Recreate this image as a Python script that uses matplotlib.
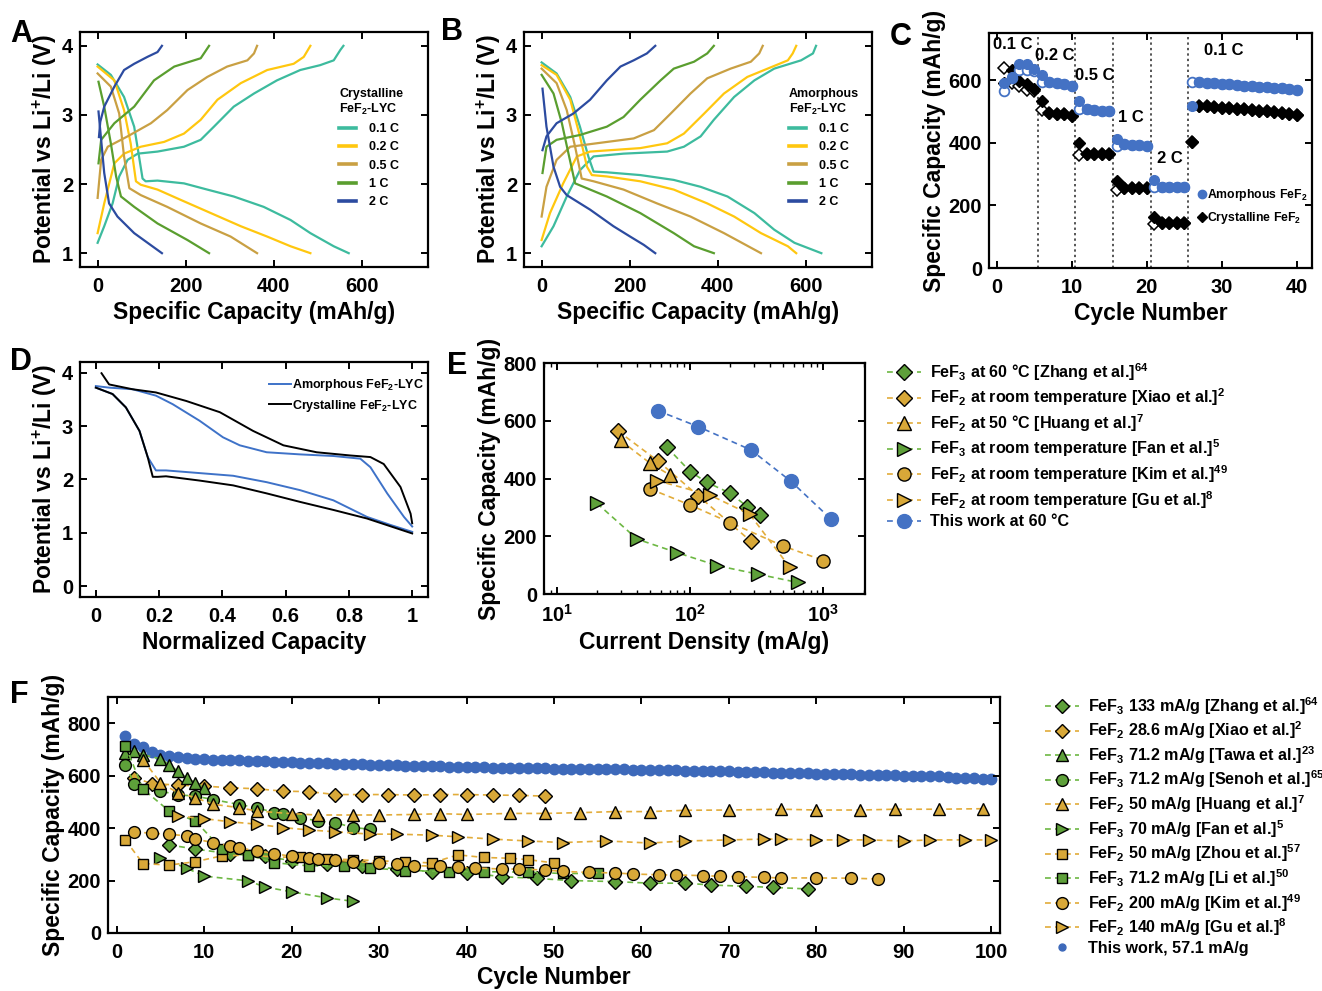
import matplotlib
matplotlib.use("Agg")
import matplotlib.pyplot as plt
from matplotlib.lines import Line2D

plt.rcParams['font.family'] = ['Liberation Sans', 'DejaVu Sans']
plt.rcParams['font.weight'] = 'bold'
plt.rcParams['axes.labelweight'] = 'bold'
plt.rcParams['mathtext.fontset'] = 'custom'
plt.rcParams['mathtext.rm'] = 'Liberation Sans:bold'
plt.rcParams['mathtext.it'] = 'Liberation Sans:bold'
plt.rcParams['mathtext.bf'] = 'Liberation Sans:bold'
plt.rcParams['mathtext.sf'] = 'Liberation Sans:bold'

# ---------------- data: panel A (crystalline FeF2-LYC) ----------------
rates = ['0.1 C', '0.2 C', '0.5 C', '1 C', '2 C']
rate_colors = ['#3DBB9E', '#FFC70F', '#C9A043', '#5A9E2F', '#2C4BA0']

cA01_dis_x = [0, 30, 60, 83, 94, 102, 109, 136, 196, 249, 309, 377, 438, 483, 536, 570]
cA01_dis_y = [3.73, 3.58, 3.26, 2.83, 2.40, 2.08, 2.04, 2.05, 2.01, 1.92, 1.82, 1.67, 1.48, 1.29, 1.10, 1.0]
cA01_chg_x = [0, 15, 34, 49, 68, 91, 136, 196, 234, 264, 309, 355, 407, 460, 505, 536, 551, 558]
cA01_chg_y = [1.15, 1.39, 1.72, 2.11, 2.35, 2.44, 2.47, 2.54, 2.64, 2.83, 3.12, 3.31, 3.50, 3.65, 3.72, 3.79, 3.94, 4.0]
cA02_dis_x = [0, 38, 60, 75, 87, 98, 136, 189, 257, 325, 385, 438, 483]
cA02_dis_y = [3.70, 3.50, 3.07, 2.59, 2.04, 1.99, 1.92, 1.77, 1.58, 1.39, 1.24, 1.10, 1.0]
cA02_chg_x = [0, 15, 38, 60, 98, 151, 196, 234, 272, 325, 385, 445, 468, 483]
cA02_chg_y = [1.29, 1.72, 2.30, 2.44, 2.54, 2.61, 2.73, 2.93, 3.22, 3.46, 3.65, 3.74, 3.84, 4.0]
cA05_dis_x = [0, 30, 49, 60, 72, 98, 158, 234, 302, 362]
cA05_dis_y = [3.60, 3.41, 3.02, 2.40, 1.94, 1.84, 1.67, 1.43, 1.24, 1.0]
cA05_chg_x = [0, 8, 23, 68, 121, 158, 204, 249, 294, 340, 355, 362]
cA05_chg_y = [1.80, 2.35, 2.54, 2.69, 2.88, 3.07, 3.36, 3.55, 3.70, 3.79, 3.89, 4.0]
cA1_dis_x = [2, 15, 30, 42, 53, 83, 136, 204, 253]
cA1_dis_y = [3.48, 3.12, 2.59, 2.11, 1.82, 1.67, 1.43, 1.19, 1.0]
cA1_chg_x = [2, 8, 38, 83, 128, 174, 234, 253]
cA1_chg_y = [2.30, 2.64, 2.88, 3.12, 3.50, 3.70, 3.82, 4.0]
cA2_dis_x = [2, 8, 15, 26, 45, 83, 146]
cA2_dis_y = [3.05, 2.64, 2.16, 1.72, 1.53, 1.29, 1.0]
cA2_chg_x = [3, 6, 15, 38, 60, 83, 113, 136, 146]
cA2_chg_y = [2.68, 2.90, 3.12, 3.41, 3.65, 3.74, 3.84, 3.91, 4.0]

# ---------------- data: panel B (amorphous FeF2-LYC) ----------------
aB01_dis_x = [0, 34, 65, 87, 106, 118, 148, 224, 300, 361, 422, 483, 528, 574, 635]
aB01_dis_y = [3.76, 3.60, 3.26, 2.83, 2.40, 2.18, 2.17, 2.13, 2.06, 1.96, 1.82, 1.58, 1.34, 1.15, 1.0]
aB01_chg_x = [0, 27, 57, 87, 118, 186, 285, 323, 361, 391, 437, 483, 528, 589, 616, 623]
aB01_chg_y = [1.10, 1.39, 1.82, 2.20, 2.40, 2.44, 2.47, 2.54, 2.69, 2.93, 3.26, 3.50, 3.67, 3.79, 3.89, 4.0]
aB02_dis_x = [0, 34, 65, 87, 103, 114, 148, 224, 300, 376, 437, 498, 559, 578]
aB02_dis_y = [3.72, 3.58, 3.22, 2.69, 2.25, 2.13, 2.11, 2.04, 1.92, 1.72, 1.53, 1.29, 1.10, 1.0]
aB02_chg_x = [0, 19, 49, 80, 110, 224, 285, 323, 369, 414, 467, 513, 559, 570, 578]
aB02_chg_y = [1.19, 1.58, 2.01, 2.40, 2.47, 2.52, 2.59, 2.73, 3.02, 3.31, 3.55, 3.67, 3.79, 3.89, 4.0]
aB05_dis_x = [0, 34, 57, 76, 91, 118, 186, 262, 338, 414, 498]
aB05_dis_y = [3.67, 3.46, 3.07, 2.54, 2.08, 2.04, 1.92, 1.72, 1.53, 1.29, 1.0]
aB05_chg_x = [0, 11, 34, 65, 125, 209, 255, 293, 338, 376, 429, 475, 494, 502]
aB05_chg_y = [1.53, 1.96, 2.35, 2.54, 2.59, 2.66, 2.78, 3.02, 3.31, 3.53, 3.67, 3.77, 3.89, 4.0]
aB1_dis_x = [0, 27, 46, 61, 76, 95, 148, 224, 300, 346, 391]
aB1_dis_y = [3.58, 3.31, 2.88, 2.44, 2.01, 1.96, 1.82, 1.58, 1.29, 1.10, 1.0]
aB1_chg_x = [2, 11, 34, 87, 148, 186, 224, 270, 300, 346, 376, 391]
aB1_chg_y = [2.16, 2.54, 2.64, 2.71, 2.83, 2.97, 3.22, 3.50, 3.67, 3.77, 3.89, 4.0]
aB2_dis_x = [2, 11, 27, 42, 57, 110, 163, 201, 232, 258]
aB2_dis_y = [3.38, 2.83, 2.25, 1.96, 1.84, 1.63, 1.39, 1.24, 1.12, 1.0]
aB2_chg_x = [2, 11, 34, 72, 110, 148, 179, 209, 239, 258]
aB2_chg_y = [2.49, 2.69, 2.88, 3.02, 3.22, 3.50, 3.70, 3.79, 3.89, 4.0]

# ---------------- data: panel C (rate capability) ----------------
cyc_C = list(range(1, 41))
amor_dis = [589, 608, 652, 652, 636, 617, 593, 590, 588, 582,
            532, 508, 503, 502, 500, 413, 395, 393, 392, 390,
            282, 260, 260, 260, 260, 518, 595, 592, 590, 588,
            586, 584, 582, 581, 579, 577, 575, 573, 571, 569]
amor_chg = [564, 605, 632, 632, 630, 593, 593, 590, 588, 582,
            508, 508, 503, 502, 500, 390, 395, 393, 392, 390,
            257, 260, 260, 260, 260, 593, 595, 592, 590, 588,
            586, 584, 582, 581, 579, 577, 575, 573, 571, 569]
cry_dis = [589, 633, 596, 587, 571, 534, 494, 492, 490, 485,
           399, 363, 363, 363, 363, 278, 254, 254, 254, 254,
           164, 145, 145, 145, 145, 402, 518, 516, 514, 512,
           510, 508, 506, 504, 502, 500, 498, 496, 493, 489]
cry_chg = [637, 589, 582, 568, 564, 503, 494, 492, 490, 485,
           360, 363, 363, 363, 363, 249, 254, 254, 254, 254,
           141, 145, 145, 145, 145, 402, 518, 516, 514, 512,
           510, 508, 506, 504, 502, 500, 498, 496, 493, 489]
C_dividers = [5.5, 10.5, 15.5, 20.5, 25.5]
C_rate_labels = ['0.1 C', '0.2 C', '0.5 C', '1 C', '2 C', '0.1 C']
C_rate_label_x = [2.2, 7.8, 13.1, 17.9, 23.1, 30.2]
C_rate_label_y = [714, 677, 614, 481, 349, 693]

# ---------------- data: panel D (normalized) ----------------
D_cry_chg_x = [0.018, 0.042, 0.116, 0.19, 0.286, 0.392, 0.497, 0.593, 0.698, 0.804, 0.868, 0.910, 0.963, 0.995, 1.0]
D_cry_chg_y = [3.99, 3.78, 3.69, 3.63, 3.47, 3.26, 2.91, 2.64, 2.51, 2.45, 2.42, 2.29, 1.86, 1.36, 1.18]
D_cry_dis_x = [0, 0.053, 0.095, 0.138, 0.164, 0.180, 0.196, 0.222, 0.328, 0.434, 0.540, 0.646, 0.751, 0.857, 1.0]
D_cry_dis_y = [3.72, 3.60, 3.35, 2.91, 2.42, 2.05, 2.05, 2.06, 1.98, 1.89, 1.74, 1.58, 1.43, 1.27, 0.99]
D_am_chg_x = [0, 0.042, 0.116, 0.19, 0.243, 0.328, 0.402, 0.455, 0.540, 0.646, 0.751, 0.836, 0.868, 0.921, 0.974, 1.0]
D_am_chg_y = [3.75, 3.72, 3.69, 3.57, 3.41, 3.10, 2.79, 2.64, 2.51, 2.47, 2.44, 2.39, 2.23, 1.74, 1.30, 1.12]
D_am_dis_x = [0, 0.053, 0.095, 0.138, 0.164, 0.19, 0.222, 0.328, 0.434, 0.540, 0.646, 0.751, 0.857, 0.931, 1.0]
D_am_dis_y = [3.72, 3.60, 3.35, 2.91, 2.42, 2.17, 2.17, 2.12, 2.07, 1.95, 1.80, 1.61, 1.30, 1.15, 1.02]

# ---------------- data: panel E (rate comparison) ----------------
E_zhang_x = [67, 100, 133, 200, 267, 333]
E_zhang_y = [508, 424, 387, 349, 303, 274]
E_xiao_x = [28.6, 57.2, 114.4, 286]
E_xiao_y = [565, 461, 341, 182]
E_huang_x = [30, 50, 70]
E_huang_y = [532, 453, 413]
E_fan_x = [20, 40, 80, 160, 320, 640]
E_fan_y = [314, 190, 143, 98, 69, 40]
E_kim_x = [50, 100, 200, 500, 1000]
E_kim_y = [364, 308, 247, 166, 116]
E_gu_x = [56, 140, 280, 560]
E_gu_y = [393, 343, 276, 92]
E_this_x = [57.1, 114.2, 285.5, 571, 1142]
E_this_y = [635, 580, 499, 390, 259]

# ---------------- data: panel F (cycling comparison) ----------------
F_zhang_c = [6, 9, 13, 17, 20, 24, 28, 32, 36, 40, 44, 48, 52, 57, 61, 65, 68, 72, 75, 79]
F_zhang_v = [336, 320, 302, 292, 276, 264, 257, 245, 234, 230, 215, 208, 200, 196, 190, 190, 183, 178, 174, 168]
F_xiao_c = [2, 4, 7, 10, 13, 16, 19, 22, 25, 28, 31, 34, 37, 40, 43, 46, 49]
F_xiao_v = [592, 570, 564, 560, 554, 550, 541, 539, 528, 528, 528, 526, 528, 528, 526, 525, 522]
F_tawa_c = [1, 2, 3, 5, 6, 7, 8, 9, 10]
F_tawa_v = [686, 693, 680, 664, 642, 617, 592, 573, 554]
F_senoh_c = [1, 2, 5, 7, 9, 11, 14, 16, 18, 19, 21, 23, 25, 27, 29]
F_senoh_v = [640, 570, 541, 527, 522, 509, 490, 478, 459, 455, 440, 427, 421, 402, 396]
F_huang_c = [3, 5, 7, 9, 11, 14, 16, 20, 23, 27, 30, 34, 37, 40, 45, 49, 53, 57, 61, 65, 70, 76, 80, 85, 89, 94, 99]
F_huang_v = [661, 573, 535, 516, 491, 478, 465, 455, 450, 450, 450, 452, 455, 452, 456, 456, 459, 463, 463, 468, 469, 472, 469, 469, 472, 472, 474]
F_fan_c = [5, 8, 10, 15, 17, 20, 24, 27]
F_fan_v = [287, 247, 217, 199, 175, 157, 134, 121]
F_zhou_c = [1, 3, 6, 9, 12, 15, 18, 21, 24, 27, 30, 33, 36, 39, 42, 45, 47, 50]
F_zhou_v = [354, 265, 259, 272, 294, 297, 290, 288, 282, 280, 275, 272, 267, 298, 288, 285, 280, 267]
F_li_c = [1, 3, 6, 9, 12, 15, 18, 22, 26, 29, 33, 38, 42, 47, 51, 55]
F_li_v = [714, 549, 465, 427, 320, 298, 268, 256, 256, 248, 238, 234, 234, 232, 227, 227]
F_kim_c = [2, 4, 6, 8, 9, 11, 13, 14, 16, 18, 20, 22, 23, 25, 27, 30, 32, 34, 37, 39,
           41, 44, 46, 49, 51, 54, 57, 59, 62, 64, 67, 69, 71, 74, 76, 80, 84, 87]
F_kim_v = [386, 380, 377, 370, 358, 345, 332, 324, 314, 303, 292, 286, 282, 278, 272, 267, 263, 257, 254, 250,
           248, 244, 244, 240, 235, 231, 229, 225, 222, 221, 219, 216, 215, 212, 210, 210, 209, 206]
F_gu_c = [7, 10, 13, 16, 19, 22, 25, 29, 32, 36, 39, 43, 47, 51, 56, 61, 65, 70, 74, 76, 80, 83, 86, 90, 93, 97, 100]
F_gu_v = [446, 436, 424, 415, 402, 393, 386, 377, 377, 373, 367, 358, 351, 345, 351, 343, 351, 355, 358, 358, 355, 355, 355, 351, 355, 355, 355]
F_this_c = list(range(1, 101))
F_this_v = [752, 722, 708, 690, 680, 675, 671, 668, 665, 662,
            661, 660, 659, 658, 657, 656, 655, 653, 652, 651,
            650, 649, 648, 647, 646, 645, 644, 643, 641, 640,
            639, 639, 638, 637, 637, 636, 635, 634, 634, 633,
            632, 632, 631, 631, 630, 629, 629, 628, 628, 627,
            627, 626, 626, 625, 625, 625, 624, 624, 623, 623,
            622, 621, 621, 620, 619, 619, 618, 617, 617, 616,
            615, 614, 614, 613, 612, 611, 611, 610, 609, 608,
            607, 606, 606, 605, 604, 603, 602, 602, 601, 600,
            599, 598, 597, 597, 596, 592, 590, 591, 589, 588]

# ---------------- styling ----------------
GREEN = '#5EA03A'
GREEN_L = '#6DB843'
GOLD = '#D8A838'
GOLD_L = '#E2AC3A'
BLUE = '#4472C4'
BLUE_F = '#3D69BA'

W, H = 1322, 991
fig = plt.figure(figsize=(W / 100, H / 100), dpi=100)


def pxax(x0, y0, x1, y1):
    return fig.add_axes([x0 / W, 1 - y1 / H, (x1 - x0) / W, (y1 - y0) / H])


def style(ax):
    for s in ax.spines.values():
        s.set_linewidth(1.6)
    ax.tick_params(which='major', direction='in', top=True, right=True,
                   width=1.4, length=5, labelsize=14.5)
    ax.tick_params(which='minor', direction='in', top=True, right=True,
                   width=1.0, length=3)
    ax.tick_params(axis='x', which='both', pad=7)
    ax.tick_params(axis='y', which='both', pad=5)


LABFS = 16.5
VLABEL = 'Potential vs Li$^{+}$/Li (V)'
LEGFS = 11.6

# ---------------- Panel A & B ----------------
A_curves = [(cA01_dis_x, cA01_dis_y, cA01_chg_x, cA01_chg_y),
            (cA02_dis_x, cA02_dis_y, cA02_chg_x, cA02_chg_y),
            (cA05_dis_x, cA05_dis_y, cA05_chg_x, cA05_chg_y),
            (cA1_dis_x, cA1_dis_y, cA1_chg_x, cA1_chg_y),
            (cA2_dis_x, cA2_dis_y, cA2_chg_x, cA2_chg_y)]
B_curves = [(aB01_dis_x, aB01_dis_y, aB01_chg_x, aB01_chg_y),
            (aB02_dis_x, aB02_dis_y, aB02_chg_x, aB02_chg_y),
            (aB05_dis_x, aB05_dis_y, aB05_chg_x, aB05_chg_y),
            (aB1_dis_x, aB1_dis_y, aB1_chg_x, aB1_chg_y),
            (aB2_dis_x, aB2_dis_y, aB2_chg_x, aB2_chg_y)]

for box, curves, title, lx in [((80, 32, 428, 267), A_curves, 'Crystalline\nFeF$_2$-LYC', 0.727),
                               ((524, 32, 872, 267), B_curves, 'Amorphous\nFeF$_2$-LYC', 0.744)]:
    ax = pxax(*box)
    for (dx, dy, cx, cy), col, lab in zip(curves, rate_colors, rates):
        ax.plot(dx, dy, color=col, lw=1.6, solid_joinstyle='round')
        ax.plot(cx, cy, color=col, lw=1.6, solid_joinstyle='round', label=lab)
    ax.set_xlim(-40, 750)
    ax.set_ylim(0.8, 4.2)
    ax.set_xticks([0, 200, 400, 600])
    ax.set_yticks([1, 2, 3, 4])
    style(ax)
    ax.set_xlabel('Specific Capacity (mAh/g)', fontsize=LABFS, labelpad=4)
    ax.set_ylabel(VLABEL, fontsize=LABFS, labelpad=2)
    ax.legend(handles=[Line2D([], [], color=c, lw=2.6) for c in rate_colors],
              labels=rates, title=title, frameon=False, fontsize=9,
              title_fontsize=9, loc='upper left', bbox_to_anchor=(lx, 0.79),
              handlelength=1.35, handletextpad=1.0, labelspacing=0.5,
              borderpad=0, alignment='left')

# ---------------- Panel C ----------------
axC = pxax(989, 33, 1312, 268)
for xv in C_dividers:
    axC.axvline(xv, color='#555555', ls=(0, (1.2, 1.6)), lw=1.4, zorder=1)
axC.plot(cyc_C, cry_chg, ls='none', marker='D', ms=6, mfc='white', mec='black', mew=1.1, zorder=2)
axC.plot(cyc_C, cry_dis, ls='none', marker='D', ms=6, mfc='black', mec='black', zorder=3)
axC.plot(cyc_C, amor_chg, ls='none', marker='o', ms=7, mfc='white', mec=BLUE, mew=1.3, zorder=4)
axC.plot(cyc_C, amor_dis, ls='none', marker='o', ms=7, mfc=BLUE, mec=BLUE, zorder=5)
for t, xv, yv in zip(C_rate_labels, C_rate_label_x, C_rate_label_y):
    axC.text(xv, yv, t, fontsize=12, ha='center', va='center', zorder=6)
axC.set_xlim(-1, 42)
axC.set_ylim(0, 750)
axC.set_xticks([0, 10, 20, 30, 40])
axC.set_yticks([0, 200, 400, 600])
style(axC)
axC.set_xlabel('Cycle Number', fontsize=LABFS, labelpad=4)
axC.set_ylabel('Specific Capacity (mAh/g)', fontsize=LABFS, labelpad=2)
legC = axC.legend(handles=[Line2D([], [], ls='none', marker='o', ms=6, mfc=BLUE, mec=BLUE),
                           Line2D([], [], ls='none', marker='D', ms=5, mfc='black', mec='black')],
                  labels=['Amorphous FeF$_2$', 'Crystalline FeF$_2$'], frameon=False,
                  fontsize=8.8, loc='upper left', bbox_to_anchor=(0.632, 0.37),
                  handlelength=0.5, handletextpad=0.15, labelspacing=0.55, borderpad=0)
legC.set_zorder(10)

# ---------------- Panel D ----------------
axD = pxax(80, 362, 428, 597)
axD.plot(D_am_chg_x, D_am_chg_y, color='#3E72C8', lw=1.4)
axD.plot(D_am_dis_x, D_am_dis_y, color='#3E72C8', lw=1.4)
axD.plot(D_cry_chg_x, D_cry_chg_y, color='black', lw=1.4)
axD.plot(D_cry_dis_x, D_cry_dis_y, color='black', lw=1.4)
axD.set_xlim(-0.05, 1.05)
axD.set_ylim(-0.2, 4.2)
axD.set_xticks([0, 0.2, 0.4, 0.6, 0.8, 1])
axD.set_xticklabels(['0', '0.2', '0.4', '0.6', '0.8', '1'])
axD.set_yticks([0, 1, 2, 3, 4])
style(axD)
axD.set_xlabel('Normalized Capacity', fontsize=LABFS, labelpad=4)
axD.set_ylabel(VLABEL, fontsize=LABFS, labelpad=2)
axD.legend(handles=[Line2D([], [], color='#3E72C8', lw=1.4), Line2D([], [], color='black', lw=1.4)],
           labels=['Amorphous FeF$_2$-LYC', 'Crystalline FeF$_2$-LYC'], frameon=False,
           fontsize=9, loc='upper left', bbox_to_anchor=((263 - 80) / 348, 1 - (371 - 362) / 235),
           handlelength=1.75, handletextpad=0.1, labelspacing=0.35, borderpad=0)

# ---------------- Panel E ----------------
axE = pxax(544, 363, 865, 594)
DASH = (0, (3.5, 2.5))
mk = dict(mec='black', mew=1.0, ls=DASH, lw=1.2)
e_series = [
    (E_zhang_x, E_zhang_y, 'D', 8, GREEN, GREEN_L, r'FeF$_3$ at 60 °C [Zhang et al.]$^{64}$'),
    (E_xiao_x, E_xiao_y, 'D', 8, GOLD, GOLD_L, r'FeF$_2$ at room temperature [Xiao et al.]$^{2}$'),
    (E_huang_x, E_huang_y, '^', 10, GOLD, GOLD_L, r'FeF$_2$ at 50 °C [Huang et al.]$^{7}$'),
    (E_fan_x, E_fan_y, '>', 10, GREEN, GREEN_L, r'FeF$_3$ at room temperature [Fan et al.]$^{5}$'),
    (E_kim_x, E_kim_y, 'o', 9.5, GOLD, GOLD_L, r'FeF$_2$ at room temperature [Kim et al.]$^{49}$'),
    (E_gu_x, E_gu_y, '>', 10, GOLD, GOLD_L, r'FeF$_2$ at room temperature [Gu et al.]$^{8}$'),
]
e_handles, e_labels = [], []
for xs, ys, m, ms, fc, lc, lab in e_series:
    axE.plot(xs, ys, marker=m, ms=ms, mfc=fc, color=lc, **mk)
    e_handles.append(Line2D([], [], marker=m, ms=ms, mfc=fc, color=lc, **mk))
    e_labels.append(lab)
axE.plot(E_this_x, E_this_y, marker='o', ms=10, mfc=BLUE, mec=BLUE, color=BLUE, ls=DASH, lw=1.2)
e_handles.append(Line2D([], [], marker='o', ms=10, mfc=BLUE, mec=BLUE, color=BLUE, ls=DASH, lw=1.2))
e_labels.append('This work at 60 °C')
axE.set_xscale('log')
axE.set_xlim(8, 2050)
axE.set_ylim(0, 800)
axE.set_yticks([0, 200, 400, 600, 800])
style(axE)
axE.set_xlabel('Current Density (mA/g)', fontsize=LABFS, labelpad=4)
axE.set_ylabel('Specific Capacity (mAh/g)', fontsize=LABFS, labelpad=2)
fig.legend(handles=e_handles, labels=e_labels, frameon=False, fontsize=LEGFS,
           loc='upper left', bbox_to_anchor=(887 / W, 1 - 361 / H),
           handlelength=2.1, handletextpad=0.6, labelspacing=0.24, borderpad=0, borderaxespad=0)

# ---------------- Panel F ----------------
axF = pxax(108, 697, 1000, 933)
mkF = dict(mec='black', mew=1.0, ls=DASH, lw=1.2)
f_series = [
    (F_zhang_c, F_zhang_v, 'D', 7, GREEN, GREEN_L, r'FeF$_3$ 133 mA/g [Zhang et al.]$^{64}$'),
    (F_xiao_c, F_xiao_v, 'D', 7, GOLD, GOLD_L, r'FeF$_2$ 28.6 mA/g [Xiao et al.]$^{2}$'),
    (F_tawa_c, F_tawa_v, '^', 9, GREEN, GREEN_L, r'FeF$_3$ 71.2 mA/g [Tawa et al.]$^{23}$'),
    (F_senoh_c, F_senoh_v, 'o', 8.5, GREEN, GREEN_L, r'FeF$_3$ 71.2 mA/g [Senoh et al.]$^{65}$'),
    (F_huang_c, F_huang_v, '^', 9, GOLD, GOLD_L, r'FeF$_2$ 50 mA/g [Huang et al.]$^{7}$'),
    (F_fan_c, F_fan_v, '>', 9, GREEN, GREEN_L, r'FeF$_3$ 70 mA/g [Fan et al.]$^{5}$'),
    (F_zhou_c, F_zhou_v, 's', 6.5, GOLD, GOLD_L, r'FeF$_2$ 50 mA/g [Zhou et al.]$^{57}$'),
    (F_li_c, F_li_v, 's', 6.5, GREEN, GREEN_L, r'FeF$_3$ 71.2 mA/g [Li et al.]$^{50}$'),
    (F_kim_c, F_kim_v, 'o', 8.5, GOLD, GOLD_L, r'FeF$_2$ 200 mA/g [Kim et al.]$^{49}$'),
    (F_gu_c, F_gu_v, '>', 9, GOLD, GOLD_L, r'FeF$_2$ 140 mA/g [Gu et al.]$^{8}$'),
]
f_handles, f_labels = [], []
axF.plot(F_this_c, F_this_v, ls='none', marker='o', ms=7.5, mfc=BLUE_F, mec=BLUE_F, zorder=1)
for xs, ys, m, ms, fc, lc, lab in f_series:
    axF.plot(xs, ys, marker=m, ms=ms, mfc=fc, color=lc, zorder=2, **mkF)
    f_handles.append(Line2D([], [], marker=m, ms=ms, mfc=fc, color=lc, **mkF))
    f_labels.append(lab)
f_handles.append(Line2D([], [], ls='none', marker='o', ms=5, mfc=BLUE_F, mec=BLUE_F))
f_labels.append('This work, 57.1 mA/g')
axF.set_xlim(-1, 101)
axF.set_ylim(0, 900)
axF.set_xticks(range(0, 101, 10))
axF.set_yticks([0, 200, 400, 600, 800])
style(axF)
axF.set_xlabel('Cycle Number', fontsize=LABFS, labelpad=3)
axF.set_ylabel('Specific Capacity (mAh/g)', fontsize=LABFS, labelpad=2)
fig.legend(handles=f_handles, labels=f_labels, frameon=False, fontsize=LEGFS,
           loc='upper left', bbox_to_anchor=(1045 / W, 1 - 695 / H),
           handlelength=2.1, handletextpad=0.55, labelspacing=0.18, borderpad=0, borderaxespad=0)

# ---------------- panel letters ----------------
for letter, x, y in [('A', 10, 42), ('B', 441, 40), ('C', 890, 45), ('D', 10, 370), ('E', 447, 374), ('F', 10, 703)]:
    fig.text(x / W, 1 - y / H, letter, fontsize=22, fontweight='bold', ha='left', va='baseline')

fig.savefig('out.png', dpi=100)
